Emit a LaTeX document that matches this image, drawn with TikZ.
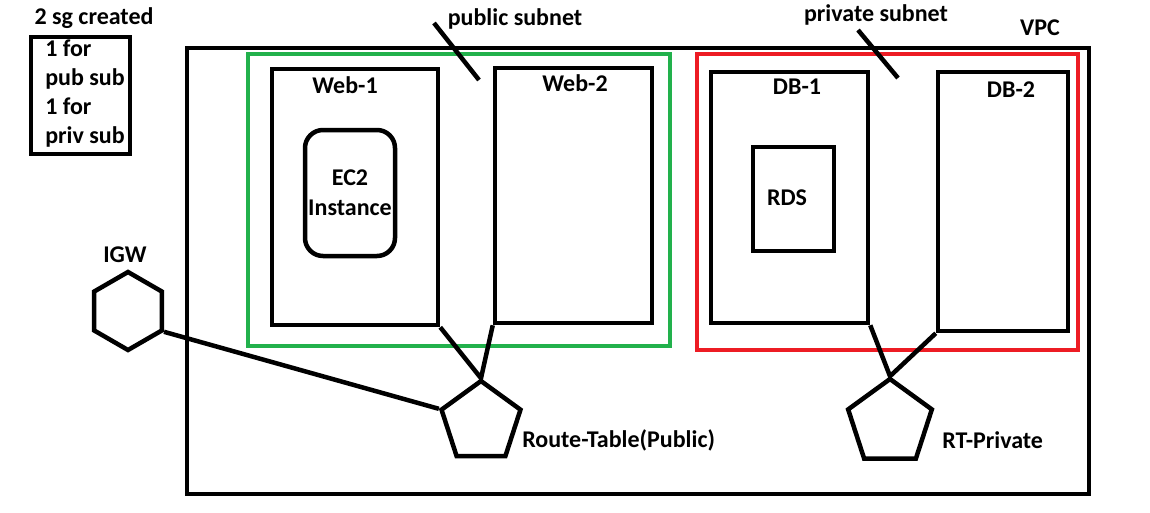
\documentclass[tikz,border=0pt]{standalone}
\usepackage{fontspec}
\setmainfont{Carlito}
\usetikzlibrary{shapes.geometric}

\begin{document}
\begin{tikzpicture}[x=1pt,y=-1pt,line width=4.5pt,
  box/.style={draw,rectangle,inner sep=0pt},
  lbl/.style={inner sep=0pt,font=\fontsize{24}{28}\selectfont\bfseries,anchor=base},
  hexa/.style={draw,regular polygon,regular polygon sides=6,shape border rotate=30,inner sep=0pt},
  penta/.style={draw,regular polygon,regular polygon sides=5,inner sep=0pt}]
\useasboundingbox (0,0) rectangle (1150,512);
% vpc and subnets
\node[box,minimum width=902pt,minimum height=446pt] (vpc) at (638,271) {};
\node[box,draw={rgb,255:red,34;green,177;blue,76},line width=4pt,minimum width=422pt,minimum height=292pt] (pubsub) at (459,200) {};
\node[box,draw={rgb,255:red,237;green,28;blue,36},line width=4pt,minimum width=381pt,minimum height=296pt] (privsub) at (887.5,202) {};
\node[box,minimum width=166pt,minimum height=256pt] (web1) at (355,197) {};
\node[box,minimum width=157pt,minimum height=255pt] (web2) at (573.5,195.5) {};
\node[box,rounded corners=18pt,minimum width=90pt,minimum height=126pt] (ec2) at (350,193) {};
\node[box,minimum width=157pt,minimum height=251pt] (db1) at (789.5,197.5) {};
\node[box,minimum width=130pt,minimum height=259pt] (db2) at (1003,201.5) {};
\node[box,minimum width=81pt,minimum height=104pt] (rds) at (793.5,199) {};
\node[box,minimum width=99pt,minimum height=117pt] (sg) at (80.5,95.5) {};
\node[hexa,minimum size=78pt] (igw) at (128,311) {};
\node[penta,minimum size=83pt] (rtpub) at (481,422.5) {};
\node[penta,minimum size=88pt] (rtpriv) at (890,423) {};
% labels
\node[lbl] (sglbl) at (94,24) {2 sg created};
\node[lbl,anchor=base west,align=left,font=\fontsize{24}{28.7}\selectfont\bfseries] (sgtext) at (43,143) {1 for\\pub sub\\1 for\\priv sub};
\node[lbl] (publbl) at (515,25) {public subnet};
\node[lbl] (privlbl) at (876,21) {private subnet};
\node[lbl] (vpclbl) at (1040,35) {VPC};
\node[lbl] (web1lbl) at (345,93) {Web-1};
\node[lbl] (web2lbl) at (575,91) {Web-2};
\node[lbl] (db1lbl) at (797,94) {DB-1};
\node[lbl] (db2lbl) at (1011,97) {DB-2};
\node[lbl] (ec2lbl) at (350,185) {EC2};
\node[lbl] (instlbl) at (350,215) {Instance};
\node[lbl] (rdslbl) at (787,205) {RDS};
\node[lbl] (igwlbl) at (125,262) {IGW};
\node[lbl,anchor=base west] (rtpublbl) at (520,447) {Route-Table(Public)};
\node[lbl,anchor=base west] (rtprivlbl) at (940,448) {RT-Private};
% pointers
\coordinate (pubtip) at (479,80);
\coordinate (privtip) at (898,78);
\draw (434,23) coordinate (pubtail) -- (pubtip);
\draw (858,30) coordinate (privtail) -- (privtip);
% routes
\draw (igw.-30) -- (rtpub.162);
\draw (web1.south east) -- (rtpub.north) -- (web2.south west);
\draw (db1.south east) -- (rtpriv.north) -- (db2.south west);
\end{tikzpicture}
\end{document}
